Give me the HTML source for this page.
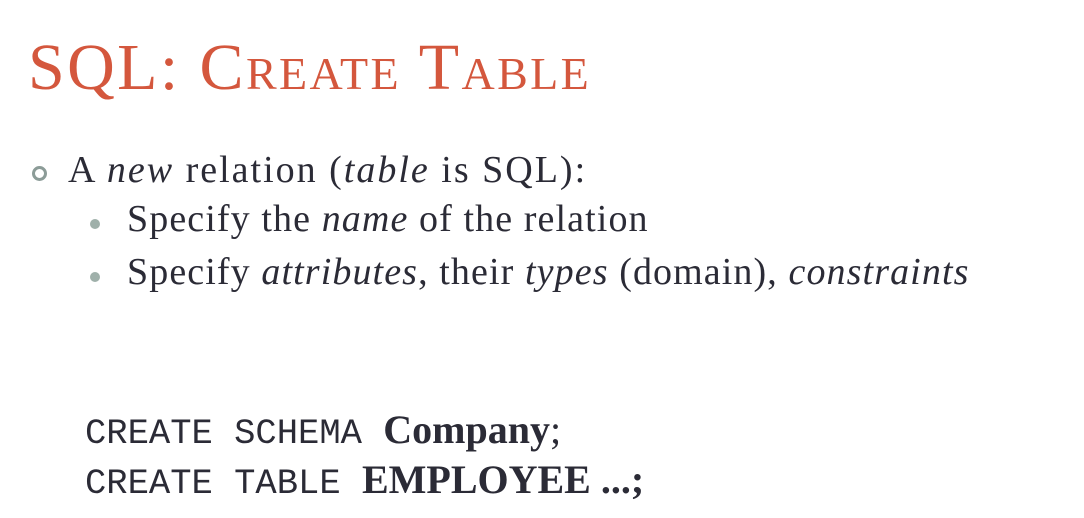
<!DOCTYPE html>
<html><head><meta charset="utf-8"><style>
body{margin:0;width:1084px;height:518px;background:#fff;overflow:hidden;position:relative;font-family:"Liberation Serif",serif;color:#2b2b36}
.a{position:absolute;white-space:nowrap;line-height:1}
.title{color:#d4573d;font-size:66px;left:28px;top:35px;font-variant:small-caps;letter-spacing:2.4px}
.l{font-size:38px;letter-spacing:1.1px}
.ring{position:absolute;width:9px;height:9px;border:3px solid #8c9c98;border-radius:50%}
.dot{position:absolute;width:10px;height:10px;background:#9fb0aa;border-radius:50%}
.code{font-size:40px;left:85px}
.mono{font-family:"Liberation Mono",monospace;font-size:35.5px;font-weight:normal}
b{font-weight:bold}
</style></head><body>
<div class="a title">SQL: Create Table</div>
<div class="ring" style="left:32px;top:166px"></div>
<div class="a l" style="left:68px;top:151px;letter-spacing:2px">A <i>new</i> relation (<i>table</i> is SQL):</div>
<div class="dot" style="left:90px;top:219px"></div>
<div class="a l" style="left:127px;top:200px">Specify the <i>name</i> of the relation</div>
<div class="dot" style="left:90px;top:272px"></div>
<div class="a l" style="left:127px;top:253px">Specify <i>attributes</i>, their <i>types</i> (domain), <i>constraints</i></div>
<div class="a code" style="top:410px"><span class="mono">CREATE SCHEMA </span><b>Company</b>;</div>
<div class="a code" style="top:460px"><span class="mono">CREATE TABLE </span><b>EMPLOYEE ...;</b></div>
</body></html>
